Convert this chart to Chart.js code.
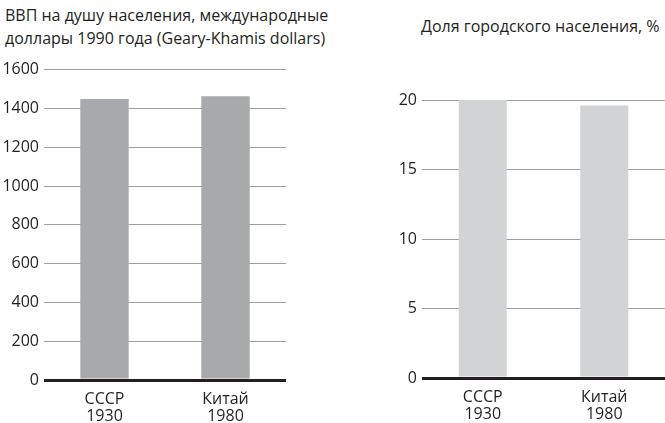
<!DOCTYPE html>
<html>
<head>
<meta charset="utf-8">
<script src="https://cdn.jsdelivr.net/npm/chart.js@4.4.1/dist/chart.umd.min.js"></script>
<style>
    body { margin: 0; background: #fff; width: 665px; height: 423px; position: relative; overflow: hidden; font-family: 'Open Sans', sans-serif; color: #231f20; }
    .title { position: absolute; font-size: 16px; line-height: 23px; white-space: nowrap; }
    #titleLeft { left: 5px; top: 4px; }
    #titleRight { left: 421px; top: 15px; }
    .box { position: absolute; top: 55px; width: 300px; height: 368px; }
    #boxLeft { left: 0; }
    #boxRight { left: 365px; }
</style>
</head>
<body>
<div class="title" id="titleLeft">ВВП на душу населения, международные<br>доллары 1990 года (Geary-Khamis dollars)</div>
<div class="title" id="titleRight">Доля городского населения, %</div>
<div class="box" id="boxLeft"><canvas id="gdpChart"></canvas></div>
<div class="box" id="boxRight"><canvas id="urbanChart"></canvas></div>
<script>
// Категории и значения
const categories = [['СССР', '1930'], ['Китай', '1980']];
const gdpValues = [1448, 1462];
const urbanValues = [20.0, 19.6];
const gdpTicks = [0, 200, 400, 600, 800, 1000, 1200, 1400, 1600];
const urbanTicks = [0, 5, 10, 15, 20];

const textColor = '#231f20';
const tickFont = { family: "'Open Sans', sans-serif", size: 16 };

function makeChart(id, values, ticks, color, opts) {
    const ctx = document.getElementById(id);
    return new Chart(ctx, {
        type: 'bar',
        data: {
            labels: categories,
            datasets: [{
                data: values,
                backgroundColor: color,
                borderWidth: 0,
                barPercentage: opts.bar,
                categoryPercentage: 1
            }]
        },
        options: {
            responsive: true,
            maintainAspectRatio: false,
            animation: false,
            layout: { padding: { top: opts.top, right: opts.right, left: 0, bottom: 0 } },
            plugins: { legend: { display: false }, tooltip: { enabled: false } },
            scales: {
                x: {
                    grid: { display: false },
                    border: { display: false },
                    ticks: { color: textColor, font: { ...tickFont, lineHeight: 1.05 }, padding: 3, maxRotation: 0 },
                    afterFit: (s) => { s.height = opts.xh; }
                },
                y: {
                    min: 0,
                    max: ticks[ticks.length - 1],
                    afterBuildTicks: (s) => { s.ticks = ticks.map(v => ({ value: v })); },
                    border: { display: false },
                    grid: {
                        color: (c) => c.tick && c.tick.value === 0 ? '#231f20' : '#9d9fa2',
                        lineWidth: (c) => c.tick && c.tick.value === 0 ? 3 : 1,
                        drawTicks: false
                    },
                    ticks: { color: textColor, font: tickFont, padding: 5, callback: (v) => String(v) },
                    afterFit: (s) => { s.width = opts.yw; }
                }
            }
        }
    });
}

makeChart('gdpChart', gdpValues, gdpTicks, '#a7a9ac', { bar: 0.4, top: 12, right: 14, xh: 43, yw: 44 });
makeChart('urbanChart', urbanValues, urbanTicks, '#d1d3d4', { bar: 0.395, top: 45, right: 0, xh: 45, yw: 57 });
</script>
</body>
</html>
